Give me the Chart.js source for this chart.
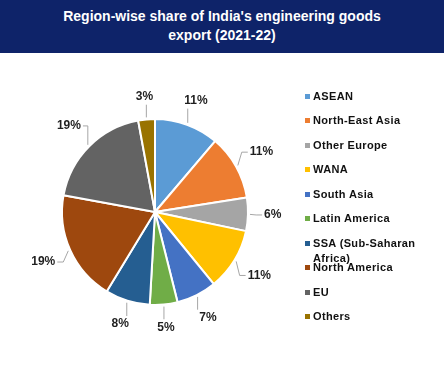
<!DOCTYPE html>
<html>
<head>
<meta charset="utf-8">
<script src="https://cdn.jsdelivr.net/npm/chart.js@4.4.1/dist/chart.umd.min.js"></script>
<style>
  html, body { margin: 0; padding: 0; background: #fff; }
  body { width: 444px; height: 388px; position: relative; overflow: hidden; font-family: "Liberation Sans", Arial, sans-serif; }
  #banner { position: absolute; left: 0; top: 0; width: 444px; height: 53px; background: #0E2369; color: #fff;
            font-weight: bold; font-size: 14px; line-height: 19px; text-align: center; padding-top: 7px; box-sizing: border-box; z-index: 2; }
  #chartWrap { position: absolute; left: 0; top: 0; width: 444px; height: 388px; }
  #legend { position: absolute; left: 0; top: 0; width: 444px; height: 388px; z-index: 3; pointer-events: none; }
  .lg { position: absolute; left: 305px; font-weight: bold; font-size: 11px; line-height: 15px; color: #111; letter-spacing: 0.35px; width: 118px; }
  .lg .sw { position: absolute; left: 0; top: 5px; width: 5px; height: 5px; }
  .lg .tx { display: block; margin-left: 8px; }
</style>
</head>
<body>
<div id="banner">Region-wise share of India's engineering goods<br>export (2021-22)</div>
<div id="chartWrap"><canvas id="c" width="444" height="388"></canvas></div>
<div id="legend"></div>
<script>
const categories = ["ASEAN", "North-East Asia", "Other Europe", "WANA", "South Asia", "Latin America", "SSA (Sub-Saharan Africa)", "North America", "EU", "Others"];
const shareValues = [11.2, 11.3, 5.8, 10.8, 7.0, 4.8, 7.8, 19.2, 19.2, 2.9];
const sliceColors = ["#5B9BD5", "#ED7D31", "#A5A5A5", "#FFC000", "#4472C4", "#70AD47", "#255E91", "#9E480E", "#636363", "#997300"];

// HTML legend built from the arrays
const legendEl = document.getElementById('legend');
categories.forEach((name, i) => {
  const d = document.createElement('div');
  d.className = 'lg';
  d.style.top = (96 - 7.5 + i * 24.5) + 'px';
  d.innerHTML = '<span class="sw" style="background:' + sliceColors[i] + '"></span><span class="tx"></span>';
  d.querySelector('.tx').textContent = name;
  legendEl.appendChild(d);
});

const labelPlugin = {
  id: 'outLabels',
  afterDatasetsDraw(chart) {
    const ctx = chart.ctx;
    const meta = chart.getDatasetMeta(0);
    const data = chart.data.datasets[0].data;
    const total = data.reduce((a, b) => a + b, 0);
    ctx.save();
    ctx.font = 'bold 12px "Liberation Sans", Arial, sans-serif';
    ctx.textAlign = 'center';
    ctx.textBaseline = 'middle';
    meta.data.forEach((arc, i) => {
      const p = arc.getProps(['x', 'y', 'startAngle', 'endAngle', 'outerRadius'], true);
      const mid = (p.startAngle + p.endAngle) / 2;
      const R = p.outerRadius;
      const c = Math.cos(mid), s = Math.sin(mid);
      const txt = Math.round(data[i] / total * 100) + '%';
      const w = ctx.measureText(txt).width;
      const hw = w / 2, hh = 6;
      const d = R + 16 + hw * Math.abs(c) + hh * Math.abs(s);
      const lx = p.x + d * c;
      const ly = p.y + d * s;
      // leader line
      const x0 = p.x + (R + 2) * c, y0 = p.y + (R + 2) * s;
      ctx.strokeStyle = '#A6A6A6';
      ctx.lineWidth = 1;
      ctx.beginPath();
      ctx.moveTo(x0, y0);
      if (lx - x0 > hw + 4) {
        const ex = lx - hw - 2;
        ctx.lineTo(Math.max(x0, ex - 6), ly);
        ctx.lineTo(ex, ly);
      } else if (x0 - lx > hw + 4) {
        const ex = lx + hw + 2;
        ctx.lineTo(Math.min(x0, ex + 6), ly);
        ctx.lineTo(ex, ly);
      } else {
        const ey = s > 0 ? ly - hh - 2 : ly + hh + 2;
        ctx.lineTo(x0, ey);
      }
      ctx.stroke();
      ctx.fillStyle = '#1f1f1f';
      ctx.fillText(txt, lx, ly);
    });
    ctx.restore();
  }
};

new Chart(document.getElementById('c'), {
  type: 'pie',
  data: {
    labels: categories,
    datasets: [{
      data: shareValues,
      backgroundColor: sliceColors,
      borderColor: '#ffffff',
      borderWidth: 2
    }]
  },
  options: {
    responsive: false,
    animation: false,
    layout: { padding: { left: 61, right: 195, top: 118, bottom: 82 } },
    plugins: {
      legend: { display: false },
      tooltip: { enabled: false },
      title: { display: false }
    }
  },
  plugins: [labelPlugin]
});
</script>
</body>
</html>
